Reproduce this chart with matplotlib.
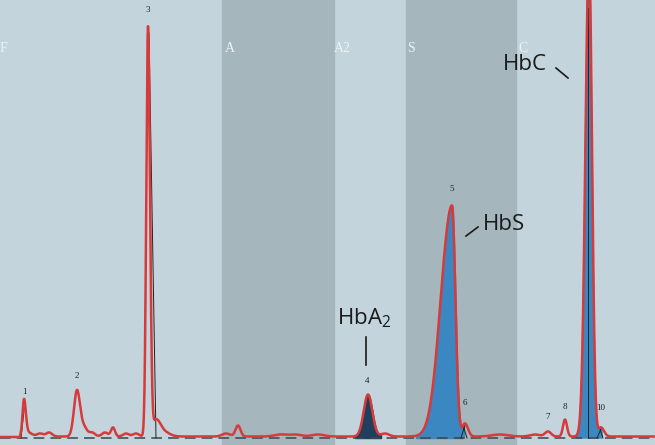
import numpy as np
import matplotlib
matplotlib.use("Agg")
import matplotlib.pyplot as plt

# ---- data (x = retention position, y = signal above baseline) ----
peak_pos    = [24, 28, 40, 49, 77, 84, 92, 105, 113, 126, 136, 148, 156, 163,
               226, 238, 280, 295, 318, 368, 385, 440, 452, 465, 500, 535, 548, 565, 589, 601]
peak_height = [36, 4, 3, 4, 46, 9, 4, 4, 9, 3, 3, 410, 16, 5,
               3, 11, 2, 2, 2, 42, 3, 10, 231, 13, 2, 2, 5, 17, 480, 9]
peak_wleft  = [1.5, 3, 3, 3, 3.0, 3, 3, 3, 2, 3, 3, 1.7, 3, 4,
               4, 2.5, 6, 6, 6, 4.3, 4, 8, 10.5, 2.5, 8, 5, 3, 2.0, 3.6, 2.5]
peak_wright = [1.8, 4, 3, 3, 3.0, 3, 3, 3, 2, 3, 3, 2.0, 4, 6,
               4, 2.5, 6, 6, 6, 4.3, 4, 4, 3.4, 3.0, 8, 5, 3, 2.0, 3.0, 3.0]
baseline_offset = 1.5

peak_labels = ["1", "2", "3", "4", "5", "6", "7", "8", "10"]
label_x     = [24, 77, 148, 367, 452, 465, 548, 565, 601]
label_y     = [46, 62, 428, 57, 249, 35, 21, 31, 30]

band_names  = ["F", "A", "A2", "S", "C"]
band_text_x = [0, 225, 334, 407, 518]
band_edges  = [(222, 334), (406, 516)]

x = np.linspace(0, 655, 4000)

def bigauss(x, mu, h, wl, wr):
    s = np.where(x < mu, wl, wr)
    return h * np.exp(-0.5 * ((x - mu) / s) ** 2)

comps = [bigauss(x, m, h, l, r) for m, h, l, r in zip(peak_pos, peak_height, peak_wleft, peak_wright)]
y = np.sum(comps, axis=0) + baseline_offset
y[x < 20] = baseline_offset - 0.5

fig = plt.figure(figsize=(6.55, 4.45), dpi=100)
ax = fig.add_axes([0, 0, 1, 1])
ax.set_xlim(0, 655)
ax.set_ylim(-7, 438)
ax.axis("off")

ax.axvspan(0, 655, color="#c3d4dc", zorder=0)
for a, b in band_edges:
    ax.axvspan(a, b, color="#a5b6bd", zorder=0.5)

for name, bx in zip(band_names, band_text_x):
    ax.text(bx, 390, name, color="#eef3f5", fontsize=10, family="Liberation Serif",
            ha="left", va="center", zorder=1)

# filled peaks
m4 = (x > 355) & (x < 381)
ax.fill_between(x[m4], 0, y[m4], color="#1f3f5c", zorder=2)
m5 = (x > 416) & (x < 464)
ax.fill_between(x[m5], 0, y[m5], color="#3a87c2", zorder=2)
m9 = (x > 576) & (x < 602)
ax.fill_between(x[m9], 0, y[m9], color="#3a87c2", zorder=2)

# baseline
ax.plot([0, 655], [0, 0], ls=(0, (7, 4)), color="#3c474c", lw=1.1, zorder=2.5)

# thin integration marks
for xs, ys in [([21, 25], [0, 36]), ([149, 156], [405, 0]), ([461, 465], [0, 13]),
               ([467, 463], [0, 13]), ([597, 601], [0, 9]), ([603, 600], [0, 9]),
               ([588, 588], [430, 0])]:
    ax.plot(xs, ys, color="#222", lw=0.7, zorder=3)

ax.plot(x, y, color="#d63a3a", lw=1.8, zorder=4)

for t, lx, ly in zip(peak_labels, label_x, label_y):
    ax.text(lx, ly, t, fontsize=6.5, family="Liberation Serif", color="#222",
            ha="center", va="center", zorder=5)

# annotations
ax.text(503, 373, "HbC", fontsize=16, family="Open Sans", color="#1a1a1a", ha="left", va="center")
ax.plot([556, 568], [370, 360], color="#1a1a1a", lw=1.2)
ax.text(483, 214, "HbS", fontsize=16, family="Open Sans", color="#1a1a1a", ha="left", va="center")
ax.plot([466, 478], [202, 211], color="#1a1a1a", lw=1.2)
ax.text(337, 120, r"HbA$_\mathregular{2}$", fontsize=16, family="Open Sans", color="#1a1a1a",
        ha="left", va="center")
ax.plot([366, 366], [101, 73], color="#1a1a1a", lw=1.2)

fig.savefig("out.png", dpi=100)
